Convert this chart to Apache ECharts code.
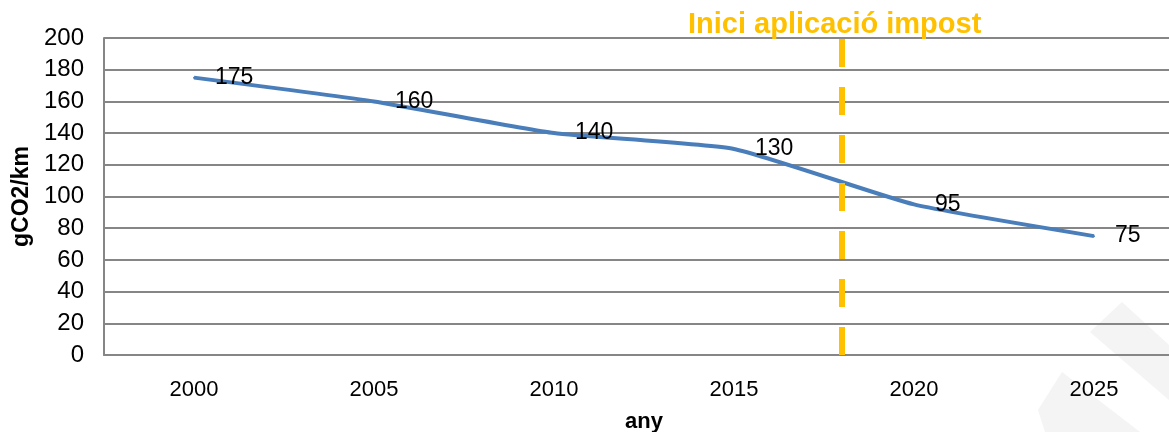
<!DOCTYPE html>
<html>
<head>
<meta charset="utf-8">
<script src="https://cdn.jsdelivr.net/npm/echarts@6/dist/echarts.min.js"></script>
<style>
html,body{margin:0;padding:0;background:#fff;}
#chart{width:1169px;height:432px;}
</style>
</head>
<body>
<div id="chart"></div>
<script>
const years = [2000, 2005, 2010, 2015, 2020, 2025];
const emissions = [175, 160, 140, 130, 95, 75];
const taxStartYear = 2018;
const taxLabel = 'Inici aplicació impost';
const yAxisName = 'gCO2/km';
const xAxisName = 'any';

const chart = echarts.init(document.getElementById('chart'), null, {renderer: 'canvas'});
const font = '"Liberation Sans", Arial, sans-serif';

chart.setOption({
  animation: false,
  backgroundColor: '#ffffff',
  title: {
    text: taxLabel,
    left: 683,
    top: 5,
    textStyle: {color: '#FFC000', fontWeight: 'bold', fontSize: 29, fontFamily: font}
  },
  graphic: [
    {type: 'polygon', z: -10, silent: true,
     shape: {points: [[1122,302],[1169,345],[1169,400],[1090,332]]},
     style: {fill: '#f4f4f4'}},
    {type: 'polygon', z: -10, silent: true,
     shape: {points: [[1062,372],[1038,410],[1045,432],[1140,432]]},
     style: {fill: '#f4f4f4'}}
  ],
  grid: {left: 104, top: 38, width: 1080, height: 317, outerBoundsMode: 'none', containLabel: false},
  xAxis: {
    type: 'value',
    min: 1997.5,
    max: 2027.5,
    interval: 2.5,
    name: xAxisName,
    nameLocation: 'middle',
    nameGap: 56,
    nameTextStyle: {fontWeight: 'bold', fontSize: 22, color: '#000', fontFamily: font},
    axisLine: {show: true, lineStyle: {color: '#868686', width: 2}},
    axisTick: {show: false},
    splitLine: {show: false},
    axisLabel: {
      color: '#000', fontSize: 22, fontFamily: font, margin: 24,
      formatter: v => (v % 5 === 0 ? String(v) : '')
    }
  },
  yAxis: {
    type: 'value',
    min: 0,
    max: 200,
    interval: 20,
    name: yAxisName,
    nameLocation: 'middle',
    nameGap: 67,
    nameTextStyle: {fontWeight: 'bold', fontSize: 23, color: '#000', fontFamily: font},
    axisLine: {show: true, lineStyle: {color: '#868686', width: 2}},
    axisTick: {show: false},
    splitLine: {show: true, lineStyle: {color: '#868686', width: 2}},
    axisLabel: {color: '#000', fontSize: 24, fontFamily: font, margin: 20}
  },
  series: [{
    type: 'line',
    data: years.map((y, i) => [y, emissions[i]]),
    smooth: 0.15,
    symbol: 'circle',
    symbolSize: 2,
    showSymbol: true,
    itemStyle: {color: '#4A7EBB'},
    lineStyle: {color: '#4A7EBB', width: 4},
    labelLayout: {hideOverlap: false},
    label: {
      show: true,
      position: 'right',
      distance: 20,
      offset: [0, -3],
      color: '#000',
      fontSize: 23,
      fontFamily: font
    },
    markLine: {
      silent: true,
      symbol: 'none',
      label: {show: false},
      lineStyle: {color: '#FFC000', width: 6, type: [28, 20]},
      data: [{xAxis: taxStartYear}]
    }
  }]
});
</script>
</body>
</html>
